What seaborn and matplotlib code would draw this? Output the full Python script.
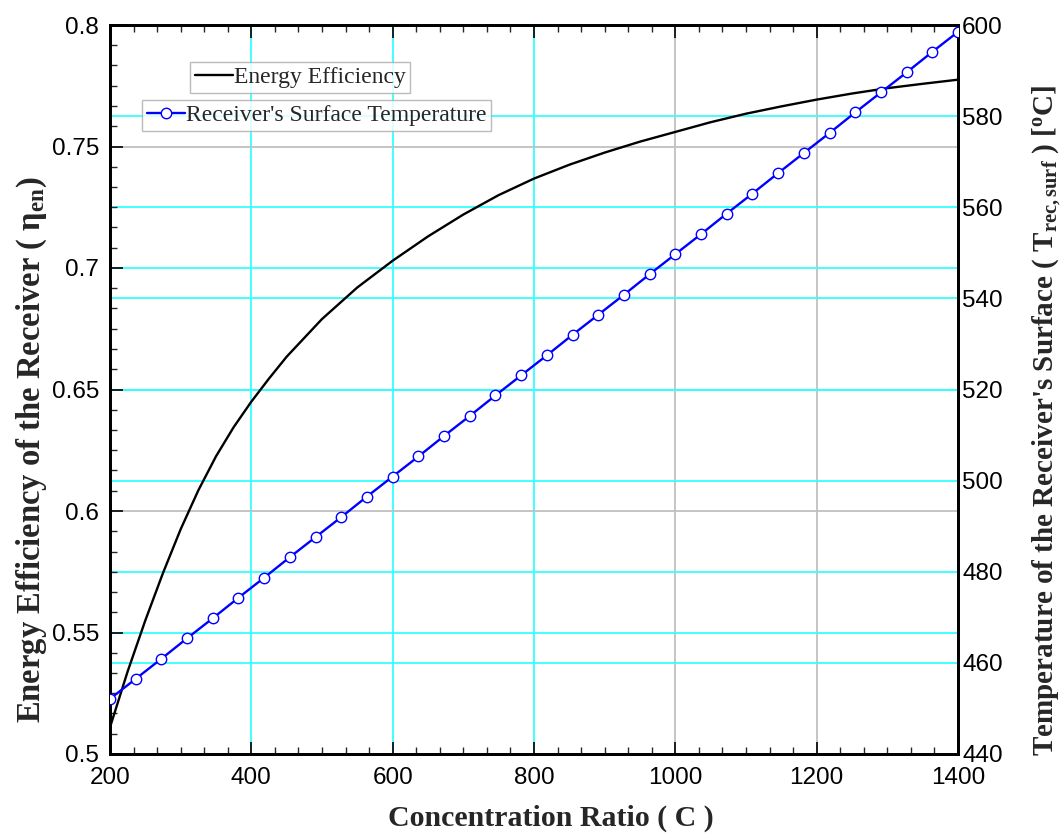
import numpy as np
import pandas as pd
import matplotlib
matplotlib.use("Agg")
import matplotlib.pyplot as plt
import seaborn as sns
from matplotlib.ticker import AutoMinorLocator
from matplotlib.lines import Line2D

# ---------------- data ----------------
eff_C = [200, 225, 250, 275, 300, 325, 350, 375, 400, 425, 450, 500, 550,
         600, 650, 700, 750, 800, 850, 900, 950, 1000, 1050, 1100, 1150, 1200, 1250,
         1300, 1350, 1400]
eff_eta = [0.511, 0.534, 0.555, 0.5745, 0.5925, 0.6085, 0.6225, 0.6345, 0.645, 0.6545, 0.6635,
           0.679, 0.692, 0.703, 0.713, 0.722, 0.730, 0.7368, 0.7425, 0.7475, 0.752, 0.756,
           0.760, 0.7635, 0.7665, 0.7693, 0.7718, 0.774, 0.7758, 0.7775]

temp_C = [200, 236.4, 272.7, 309.1, 345.5, 381.8, 418.2, 454.5, 490.9, 527.3, 563.6, 600,
          636.4, 672.7, 709.1, 745.5, 781.8, 818.2, 854.5, 890.9, 927.3, 963.6, 1000,
          1036.4, 1072.7, 1109.1, 1145.5, 1181.8, 1218.2, 1254.5, 1290.9, 1327.3, 1363.6, 1400]
temp_T = [452.1, 456.5, 460.9, 465.4, 469.8, 474.3, 478.7, 483.2, 487.6, 492.0, 496.5, 500.9,
          505.3, 509.8, 514.2, 518.7, 523.1, 527.5, 532.0, 536.4, 540.8, 545.3, 549.7,
          554.1, 558.6, 563.0, 567.5, 571.9, 576.3, 580.8, 585.2, 589.6, 594.1, 598.5]

x_ticks = [200, 400, 600, 800, 1000, 1200, 1400]
left_ticks = [0.5, 0.55, 0.6, 0.65, 0.7, 0.75, 0.8]
left_labels = ["0.5", "0.55", "0.6", "0.65", "0.7", "0.75", "0.8"]
right_ticks = [440, 460, 480, 500, 520, 540, 560, 580, 600]

x_grid_cyan = [400, 600, 800]
x_grid_gray = [1000, 1200]
left_grid_cyan = [0.55, 0.65, 0.7]
left_grid_gray = [0.6, 0.75]
right_grid_cyan = [460, 480, 500, 520, 540, 560, 580]

xlabel = "Concentration Ratio ( C )"
ylabel_left = r"Energy Efficiency of the Receiver ( $\mathregular{\eta_{en}}$)"
ylabel_right = r"Temperature of the Receiver's Surface ( $\mathregular{T_{rec,surf}}$ ) [$\mathregular{^{o}}$C]"
legend_eff = "Energy Efficiency"
legend_temp = "Receiver's Surface Temperature"

# ---------------- style ----------------
sns.set_theme(style="white")
plt.rcParams["font.family"] = ["Liberation Sans", "DejaVu Sans"]
plt.rcParams["mathtext.fontset"] = "custom"
plt.rcParams["mathtext.rm"] = "Liberation Serif:bold"
plt.rcParams["mathtext.it"] = "Liberation Serif:italic:bold"
plt.rcParams["mathtext.bf"] = "Liberation Serif:bold"

CYAN = "#33ffff"
GRAY = "#c0c0c0"

fig = plt.figure(figsize=(10.64, 8.34), dpi=100)
ax = fig.add_axes([110 / 1064, 1 - 754 / 834, 848 / 1064, 729 / 834])
ax2 = ax.twinx()

XMIN, XMAX = 200, 1400
L0, L1 = 0.5, 0.8
R0, R1 = 440, 600
ax.set_xlim(XMIN, XMAX)
ax.set_ylim(L0, L1)
ax2.set_ylim(R0, R1)

# grid lines (drawn in the lower axes so curves sit on top)
for v in x_grid_cyan:
    ax.axvline(v, color=CYAN, lw=1.3, zorder=0.5)
for v in x_grid_gray:
    ax.axvline(v, color=GRAY, lw=1.3, zorder=0.5)
for v in left_grid_cyan:
    ax.axhline(v, color=CYAN, lw=1.3, zorder=0.5)
for v in left_grid_gray:
    ax.axhline(v, color=GRAY, lw=1.3, zorder=0.5)
for v in right_grid_cyan:
    ax.axhline(L0 + (v - R0) / (R1 - R0) * (L1 - L0), color=CYAN, lw=1.3, zorder=0.5)

df_eff = pd.DataFrame({"C": eff_C, "eta": eff_eta})
df_temp = pd.DataFrame({"C": temp_C, "T": temp_T})

sns.lineplot(data=df_eff, x="C", y="eta", ax=ax, color="black", lw=1.7, zorder=3, legend=False)
sns.lineplot(data=df_temp, x="C", y="T", ax=ax2, color="#0000ff", lw=1.7, marker="o",
             markersize=7.5, markerfacecolor="white", markeredgecolor="#0000ff",
             markeredgewidth=1.0, zorder=3, legend=False)

# ticks
ax.set_xticks(x_ticks)
ax.set_yticks(left_ticks)
ax.set_yticklabels(left_labels)
ax.xaxis.set_minor_locator(AutoMinorLocator(6))
ax.yaxis.set_minor_locator(AutoMinorLocator(6))
ax.tick_params(axis="both", which="major", direction="in", length=9, width=1.2,
               labelsize=17.5, pad=8, top=True, bottom=True, left=True, right=False,
               colors="black")
ax.tick_params(axis="both", which="minor", direction="in", length=5, width=1.0,
               top=True, bottom=True, left=True, right=False)
ax.tick_params(axis="x", pad=9)
ax2.set_yticks(right_ticks)
ax2.tick_params(axis="y", which="both", length=0, labelsize=17.5, pad=3, colors="black")
ax2.yaxis.set_minor_locator(plt.NullLocator())
for lab in ax.get_xticklabels() + ax.get_yticklabels() + ax2.get_yticklabels():
    lab.set_fontfamily(["Liberation Sans", "DejaVu Sans"])

for a in (ax, ax2):
    for s in a.spines.values():
        s.set_color("black")
        s.set_linewidth(2.0)
    a.grid(False)

# labels
ax.set_xlabel(xlabel, family=["Liberation Serif", "DejaVu Serif"], weight="bold", size=21.5)
ax.xaxis.set_label_coords((551 - 110) / 848, (754 - 805) / 729)
ax.set_ylabel(ylabel_left, family=["Liberation Serif", "DejaVu Serif"], weight="bold", size=23.5)
ax.yaxis.set_label_coords((49 - 110) / 848, (754 - 450) / 729)
ax2.set_ylabel(ylabel_right, family=["Liberation Serif", "DejaVu Serif"], weight="bold", size=21)
ax2.yaxis.set_label_coords((1030 - 110) / 848, (754 - 420) / 729)

# legends (two separate boxes)
leg_font = dict(family=["Liberation Serif", "DejaVu Serif"], size=17)
h1 = Line2D([], [], color="black", lw=1.7)
h2 = Line2D([], [], color="#0000ff", lw=1.7, marker="o", markersize=7.5,
            markerfacecolor="white", markeredgecolor="#0000ff", markeredgewidth=1.0)
common = dict(frameon=True, fancybox=False, borderpad=0.2, handletextpad=0.05,
              handlelength=1.6, borderaxespad=0, prop=leg_font, loc="upper left")
leg1 = ax2.legend([h1], [legend_eff], bbox_to_anchor=((190 - 110) / 848, (754 - 62) / 729), **common)
leg1.get_frame().set_edgecolor("#aaaaaa")
leg1.get_frame().set_linewidth(1.0)
ax2.add_artist(leg1)
leg2 = ax2.legend([h2], [legend_temp], bbox_to_anchor=((142 - 110) / 848, (754 - 100) / 729), **common)
leg2.get_frame().set_edgecolor("#aaaaaa")
leg2.get_frame().set_linewidth(1.0)

fig.savefig("out.png", dpi=100)
